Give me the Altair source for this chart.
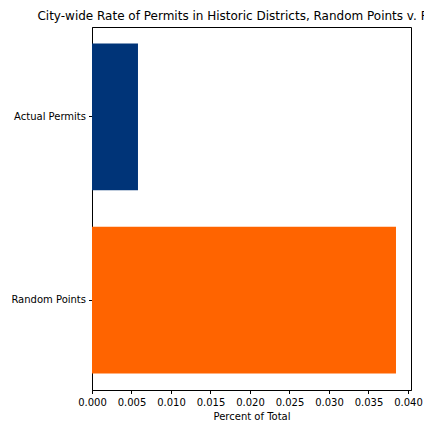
import altair as alt
import pandas as pd

categories = ["Actual Permits", "Random Points"]
values = [0.00582, 0.03848]
colors = ["#003478", "#ff6400"]
x_ticks = [0.0, 0.005, 0.010, 0.015, 0.020, 0.025, 0.030, 0.035, 0.040]

df = pd.DataFrame({"cat": categories, "val": values, "color": colors})

font = "DejaVu Sans"

chart = alt.Chart(df).mark_bar().encode(
    x=alt.X("val:Q",
            scale=alt.Scale(domain=[0, 0.04038], nice=False, zero=True),
            axis=alt.Axis(values=x_ticks, format=".3f", title="Percent of Total",
                          grid=False, tickSize=3.5, labelPadding=3.5, titlePadding=4,
                          labelFont=font, titleFont=font, labelFontSize=10, titleFontSize=10,
                          titleFontWeight="normal", labelColor="black", titleColor="black",
                          domainColor="black", tickColor="black", labelFlush=False)),
    y=alt.Y("cat:N", sort=categories,
            scale=alt.Scale(paddingInner=0.2, paddingOuter=0.09),
            axis=alt.Axis(title=None, tickSize=3.5, labelPadding=3, grid=False,
                          labelFont=font, labelFontSize=10, labelColor="black",
                          domainColor="black", tickColor="black")),
    color=alt.Color("color:N", scale=None, legend=None),
).properties(
    width=319,
    height=363,
    title=alt.TitleParams("City-wide Rate of Permits in Historic Districts, Random Points v. Permits",
                          font=font, fontSize=12, fontWeight="normal", color="black",
                          anchor="middle", offset=4),
    autosize=alt.AutoSizeParams(type="none"),
    padding={"left": 84, "top": 19, "right": 13, "bottom": 33},
).configure_view(stroke="black", strokeWidth=1)

chart.save("out.html", embed_options={"renderer": "svg", "actions": False})
